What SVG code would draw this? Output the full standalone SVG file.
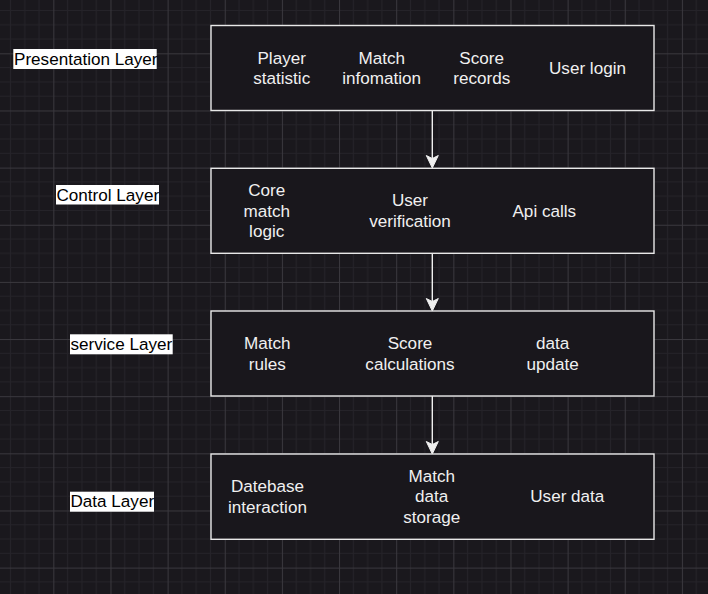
<svg xmlns="http://www.w3.org/2000/svg" width="708" height="594" viewBox="0 0 708 594">
<defs>
<style>
.bg{fill:#1a181d}
.box{fill:#19171c;stroke:#e8e8e8;stroke-width:1.4}
.t{font-family:"Liberation Sans",Arial,sans-serif;font-size:17.1px;fill:#f0f0f0;text-anchor:middle}
.lb{font-family:"Liberation Sans",Arial,sans-serif;font-size:17.1px;fill:#000000}
.lbg{fill:#ffffff}
.edge{stroke:#f0f0f0;stroke-width:1.4;fill:none}
.head{fill:#f0f0f0;stroke:#f0f0f0;stroke-width:1}
.minor{stroke:#252329;stroke-width:1}
.major{stroke:#3a383e;stroke-width:1}
</style>
<pattern id="grid" x="53.33" y="53.33" width="57.143" height="57.143" patternUnits="userSpaceOnUse">
<path class="minor" d="M14.286,0V57.143M28.571,0V57.143M42.857,0V57.143M0,14.286H57.143M0,28.571H57.143M0,42.857H57.143"/>
<path class="major" d="M0.5,0V57.143M0,0.5H57.143"/>
</pattern>
</defs>
<rect class="bg" x="0" y="0" width="708" height="594"/>
<rect x="0" y="0" width="708" height="594" fill="url(#grid)"/>

<g id="connectors">
<path class="edge" d="M432.3,110.7V159"/>
<path class="head" d="M432.3,168L426.3,155.5L432.3,158.5L438.3,155.5Z"/>
<path class="edge" d="M432.3,253.3V302"/>
<path class="head" d="M432.3,311L426.3,298.5L432.3,301.5L438.3,298.5Z"/>
<path class="edge" d="M432.3,396V445"/>
<path class="head" d="M432.3,454L426.3,441.5L432.3,444.5L438.3,441.5Z"/>
</g>

<g id="presentation-layer">
<rect class="box" x="211" y="25.5" width="443" height="85"/>
<text class="t" x="281.7" y="63.5">Player</text>
<text class="t" x="281.7" y="84">statistic</text>
<text class="t" x="381.7" y="63.5">Match</text>
<text class="t" x="381.7" y="84">infomation</text>
<text class="t" x="481.7" y="63.5">Score</text>
<text class="t" x="481.7" y="84">records</text>
<text class="t" x="587.5" y="73.5">User login</text>
</g>
<g id="presentation-label">
<rect class="lbg" x="13.3" y="49" width="143.4" height="20"/>
<text class="lb" x="14" y="64.5">Presentation Layer</text>
</g>

<g id="control-layer">
<rect class="box" x="211" y="168.3" width="443" height="85"/>
<text class="t" x="266.7" y="196">Core</text>
<text class="t" x="266.7" y="216.6">match</text>
<text class="t" x="266.7" y="237.2">logic</text>
<text class="t" x="410" y="206.3">User</text>
<text class="t" x="410" y="226.9">verification</text>
<text class="t" x="544.3" y="216.6">Api calls</text>
</g>
<g id="control-label">
<rect class="lbg" x="56" y="185" width="103" height="19.5"/>
<text class="lb" x="56.5" y="200.5">Control Layer</text>
</g>

<g id="service-layer">
<rect class="box" x="211" y="311" width="443" height="85"/>
<text class="t" x="267.3" y="349.3">Match</text>
<text class="t" x="267.3" y="369.9">rules</text>
<text class="t" x="410" y="349.3">Score</text>
<text class="t" x="410" y="369.9">calculations</text>
<text class="t" x="552.7" y="349.3">data</text>
<text class="t" x="552.7" y="369.9">update</text>
</g>
<g id="service-label">
<rect class="lbg" x="70" y="334.3" width="102.7" height="20"/>
<text class="lb" x="70.5" y="350">service Layer</text>
</g>

<g id="data-layer">
<rect class="box" x="211" y="454" width="443" height="85.3"/>
<text class="t" x="267.5" y="492">Datebase</text>
<text class="t" x="267.5" y="512.6">interaction</text>
<text class="t" x="431.7" y="481.7">Match</text>
<text class="t" x="431.7" y="502.3">data</text>
<text class="t" x="431.7" y="522.9">storage</text>
<text class="t" x="567.3" y="502.3">User data</text>
</g>
<g id="data-label">
<rect class="lbg" x="70" y="491.7" width="84" height="20"/>
<text class="lb" x="70.5" y="507">Data Layer</text>
</g>
</svg>
